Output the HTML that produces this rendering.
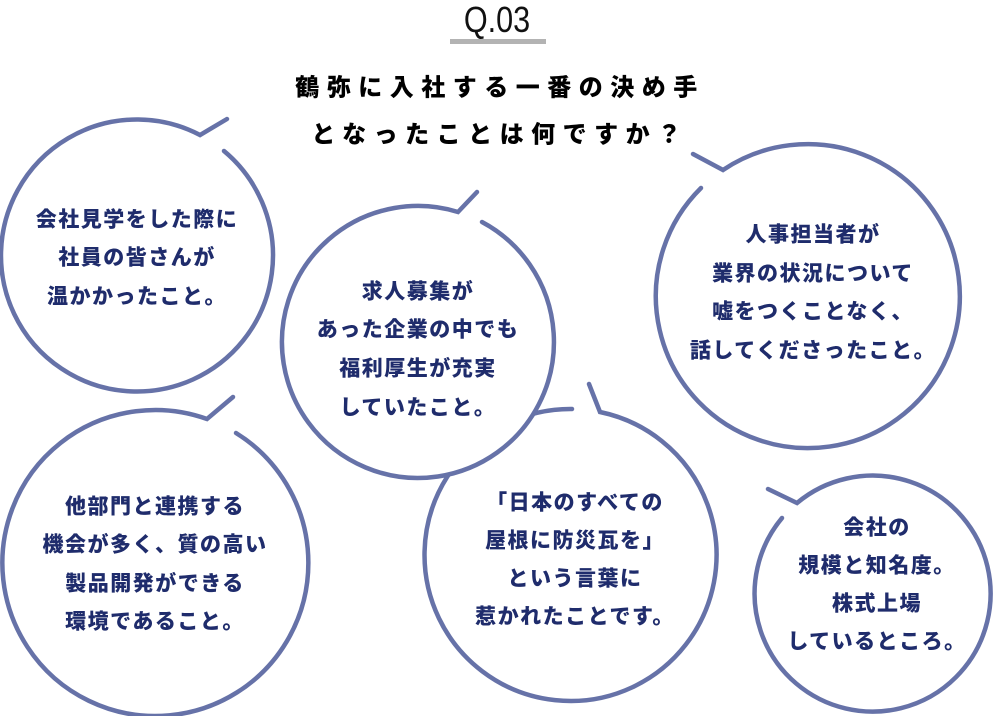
<!DOCTYPE html>
<html><head><meta charset="utf-8"><style>
html,body{margin:0;padding:0;background:#fff;width:997px;height:716px;overflow:hidden}
svg{display:block}
.t{font-family:"Liberation Sans","Noto Sans CJK JP",sans-serif;font-weight:900;font-size:21px;fill:#1f2c6c;letter-spacing:1.5px}
.h{font-family:"Liberation Sans","Noto Sans CJK JP",sans-serif;font-weight:900;font-size:24px;fill:#000;letter-spacing:7.5px}
.b{fill:#fff;stroke:#6672a8;stroke-width:4.5;stroke-linecap:round;stroke-linejoin:miter}
</style></head><body>
<svg width="997" height="716" viewBox="0 0 997 716" xmlns="http://www.w3.org/2000/svg">
<text x="497" y="32" text-anchor="middle" font-family="'Liberation Sans Narrow','Liberation Sans',sans-serif" font-size="36" fill="#111" transform="translate(497 0) scale(0.85 1) translate(-497 0)">Q.03</text>
<rect x="450" y="39" width="96" height="5" fill="#b3b3b3"/>
<text class="h" x="500" y="88" text-anchor="middle" dominant-baseline="central">鶴弥に入社する一番の決め手</text>
<text class="h" x="500" y="135" text-anchor="middle" dominant-baseline="central">となったことは何ですか？</text>

<path class="b" d="M589 384 L600 412 A146 146 0 1 1 572 409"/>
<path class="b" d="M236 433 A153 153 0 1 1 207 419 L233 397"/>
<path class="b" d="M224 151 A136 136 0 1 1 200 135 L227 119"/>
<path class="b" d="M693 154 L723 170 A152 152 0 1 1 701 188"/>
<path class="b" d="M768 489 L797 503 A118 118 0 1 1 782 518"/>
<path class="b" d="M482 222 A136 136 0 1 1 458 212 L477 192"/>

<g class="t" text-anchor="middle" dominant-baseline="central">
<text x="137" y="220">会社見学をした際に</text>
<text x="137" y="258">社員の皆さんが</text>
<text x="137" y="297">温かかったこと。</text>

<text x="418" y="292">求人募集が</text>
<text x="418" y="330">あった企業の中でも</text>
<text x="418" y="369">福利厚生が充実</text>
<text x="418" y="408">していたこと。</text>

<text x="813" y="235">人事担当者が</text>
<text x="813" y="274">業界の状況について</text>
<text x="813" y="312">嘘をつくことなく、</text>
<text x="813" y="351">話してくださったこと。</text>

<text x="155" y="507">他部門と連携する</text>
<text x="155" y="545">機会が多く、質の高い</text>
<text x="155" y="584">製品開発ができる</text>
<text x="155" y="622">環境であること。</text>

<text x="575" y="503">「日本のすべての</text>
<text x="575" y="541">屋根に防災瓦を」</text>
<text x="575" y="579">という言葉に</text>
<text x="575" y="617">惹かれたことです。</text>

<text x="877" y="528">会社の</text>
<text x="877" y="566">規模と知名度。</text>
<text x="877" y="604">株式上場</text>
<text x="877" y="642">しているところ。</text>
</g>
</svg>
</body></html>
